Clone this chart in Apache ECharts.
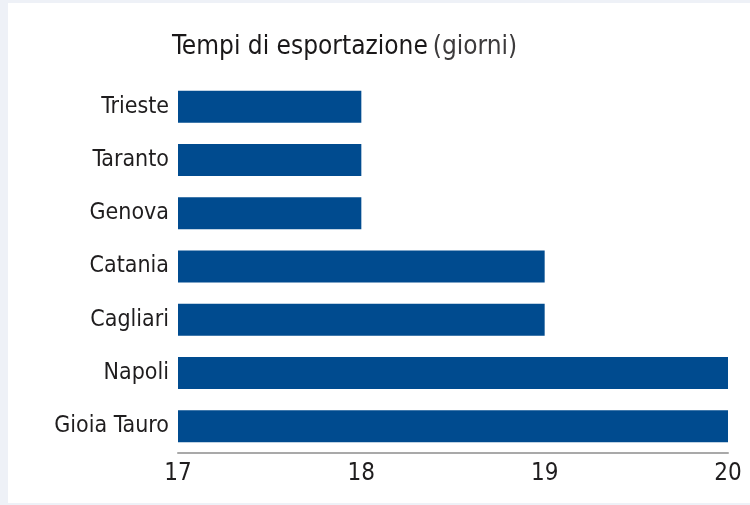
<!DOCTYPE html>
<html><head><meta charset="utf-8">
<script src="https://cdn.jsdelivr.net/npm/echarts@6/dist/echarts.min.js"></script>
<style>
html,body{margin:0;padding:0;background:#eef1f7;}
#chart{position:absolute;left:8px;top:3px;width:742px;height:500px;background:#ffffff;}
</style></head>
<body><div id="chart"></div>
<script>
const categories = ["Trieste","Taranto","Genova","Catania","Cagliari","Napoli","Gioia Tauro"];
const values = [18,18,18,19,19,20,20];
const xMin = 17, xMax = 20, xStep = 1;
const titleMain = "Tempi di esportazione";
const titleUnit = "(giorni)";

const FONT = '"Liberation Sans Narrow","DejaVu Sans Condensed",sans-serif';
const chart = echarts.init(document.getElementById('chart'));
chart.setOption({
  backgroundColor: '#ffffff',
  animation: false,
  title: {
    text: '{a|' + titleMain + '} {b|' + titleUnit + '}',
    left: 159, top: 26,
    textStyle: {
      fontWeight: 'normal',
      rich: {
        a: {fontFamily: FONT, fontSize: 26, fontWeight: 'normal', color: '#1a1819'},
        b: {fontFamily: FONT, fontSize: 26, fontWeight: 'normal', color: '#3d3b3c'}
      }
    }
  },
  grid: {left: 170, right: 22, top: 77, bottom: 50, containLabel: false},
  xAxis: {
    type: 'value', min: xMin, max: xMax, interval: xStep,
    axisLine: {show: true, lineStyle: {color: '#a9a9a9', width: 2}},
    axisTick: {show: false},
    splitLine: {show: false},
    axisLabel: {fontFamily: FONT, fontSize: 24, color: '#1f1d1e', margin: 9,
      formatter: v => String(v)}
  },
  yAxis: {
    type: 'category', data: categories, inverse: true,
    axisLine: {show: false}, axisTick: {show: false},
    axisLabel: {fontFamily: FONT, fontSize: 23, color: '#1f1d1e', margin: 9}
  },
  series: [{
    type: 'bar', data: values, barWidth: 32,
    itemStyle: {color: '#004b8f'}
  }]
});
</script></body></html>
